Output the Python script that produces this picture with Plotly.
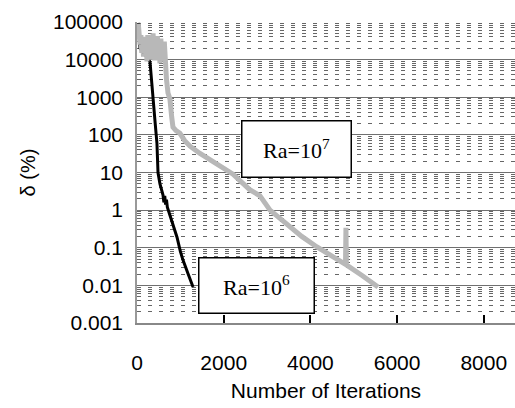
import plotly.graph_objects as go

# ---- data ----
ra6_iter = [40, 55, 70, 150, 250, 300, 330, 370, 420, 460, 485, 530, 577, 600, 620, 640,
            660, 680, 700, 760, 840, 923, 1000, 1061, 1180, 1292]
ra6_delta = [95000, 30000, 20000, 15000, 11000, 8700, 3000, 850, 200, 60, 9.8, 5, 2.9, 2.5,
             1.6, 2.4, 1.4, 1.9, 1.2, 0.74, 0.35, 0.19, 0.08, 0.047, 0.02, 0.009]

ra7_iter = [30, 50, 70, 90, 110, 130, 150, 170, 190, 210, 230, 250, 270, 290, 310, 330, 350,
            370, 390, 410, 430, 450, 470, 490, 510, 530, 550, 570, 590, 610, 630, 650, 680,
            715, 760, 800, 830, 900, 990, 1100, 1223, 1453, 1800, 2215, 2600, 2837, 3068,
            3300, 3529, 3800, 4152, 4500, 4810, 4820, 4830, 5200, 5560]
ra7_delta = [90000, 40000, 25000, 45000, 15000, 35000, 12000, 40000, 20000, 30000, 9000,
             45000, 18000, 28000, 10000, 38000, 14000, 50000, 22000, 9500, 33000, 16000,
             42000, 11000, 26000, 8000, 36000, 13000, 24000, 9000, 30000, 8000, 3000,
             1300, 900, 300, 160, 130, 110, 70, 50, 32, 18, 9, 3.5, 2.4, 1.0,
             0.6, 0.36, 0.2, 0.105, 0.06, 0.036, 0.34, 0.035, 0.018, 0.009]

y_tickvals = [0.001, 0.01, 0.1, 1, 10, 100, 1000, 10000, 100000]
y_ticktext = ["0.001", "0.01", "0.1", "1", "10", "100", "1000", "10000", "100000"]
x_tickvals = [0, 2000, 4000, 6000, 8000]
x_ticktext = ["0", "2000", "4000", "6000", "8000"]

label_ra7 = "Ra=10<sup>7</sup>"
label_ra6 = "Ra=10<sup>6</sup>"

fig = go.Figure()
fig.add_trace(go.Scatter(x=ra6_iter, y=ra6_delta, mode="lines",
                         line=dict(color="#000000", width=3), showlegend=False))
fig.add_trace(go.Scatter(x=ra7_iter, y=ra7_delta, mode="lines",
                         line=dict(color="#b8b8b8", width=5), showlegend=False))

tick_font = dict(family="Liberation Sans, Arial, sans-serif", size=21, color="#000")

fig.update_layout(
    width=515, height=408,
    margin=dict(l=137, r=0, t=22, b=85),
    paper_bgcolor="white", plot_bgcolor="white",
    showlegend=False,
    xaxis=dict(
        range=[0, 8720], tickvals=x_tickvals, ticktext=x_ticktext,
        ticks="inside", ticklen=8, tickwidth=1.5, tickcolor="#000",
        showgrid=False, zeroline=False,
        showline=True, linecolor="#888", linewidth=1.5,
        tickfont=tick_font, ticklabelstandoff=20,
        title=dict(text="Number of Iterations", font=tick_font, standoff=10),
        automargin=False,
    ),
    yaxis=dict(
        type="log", range=[-3, 5], tickvals=y_tickvals, ticktext=y_ticktext,
        ticks="", showgrid=True, gridcolor="#707070", gridwidth=1,
        minor=dict(dtick="D1", showgrid=True, gridcolor="#666666", griddash="4px,7px",
                   gridwidth=1, ticks=""),
        zeroline=False,
        showline=True, linecolor="#999", linewidth=1.5,
        tickfont=tick_font, ticklabelstandoff=8,
        title=dict(text="δ (%)", font=dict(family="Liberation Sans, Arial, sans-serif",
                                           size=20, color="#000"), standoff=12),
        automargin=False,
    ),
)

box_font = dict(family="Liberation Serif, Times New Roman, serif", size=22, color="#000")
fig.add_annotation(x=0.422, y=0.578, xref="paper", yref="paper", text=label_ra7,
                   xanchor="center", yanchor="middle",
                   showarrow=False, font=box_font, bgcolor="white",
                   bordercolor="#000", borderwidth=1.5, borderpad=0,
                   width=108, height=55, align="center", valign="middle")
fig.add_annotation(x=0.316, y=0.125, xref="paper", yref="paper", text=label_ra6,
                   xanchor="center", yanchor="middle",
                   showarrow=False, font=box_font, bgcolor="white",
                   bordercolor="#000", borderwidth=1.5, borderpad=0,
                   width=114, height=54, align="center", valign="middle")

fig.write_html("out.html", config={"displayModeBar": False},
               post_script="document.body.style.margin='0';")
